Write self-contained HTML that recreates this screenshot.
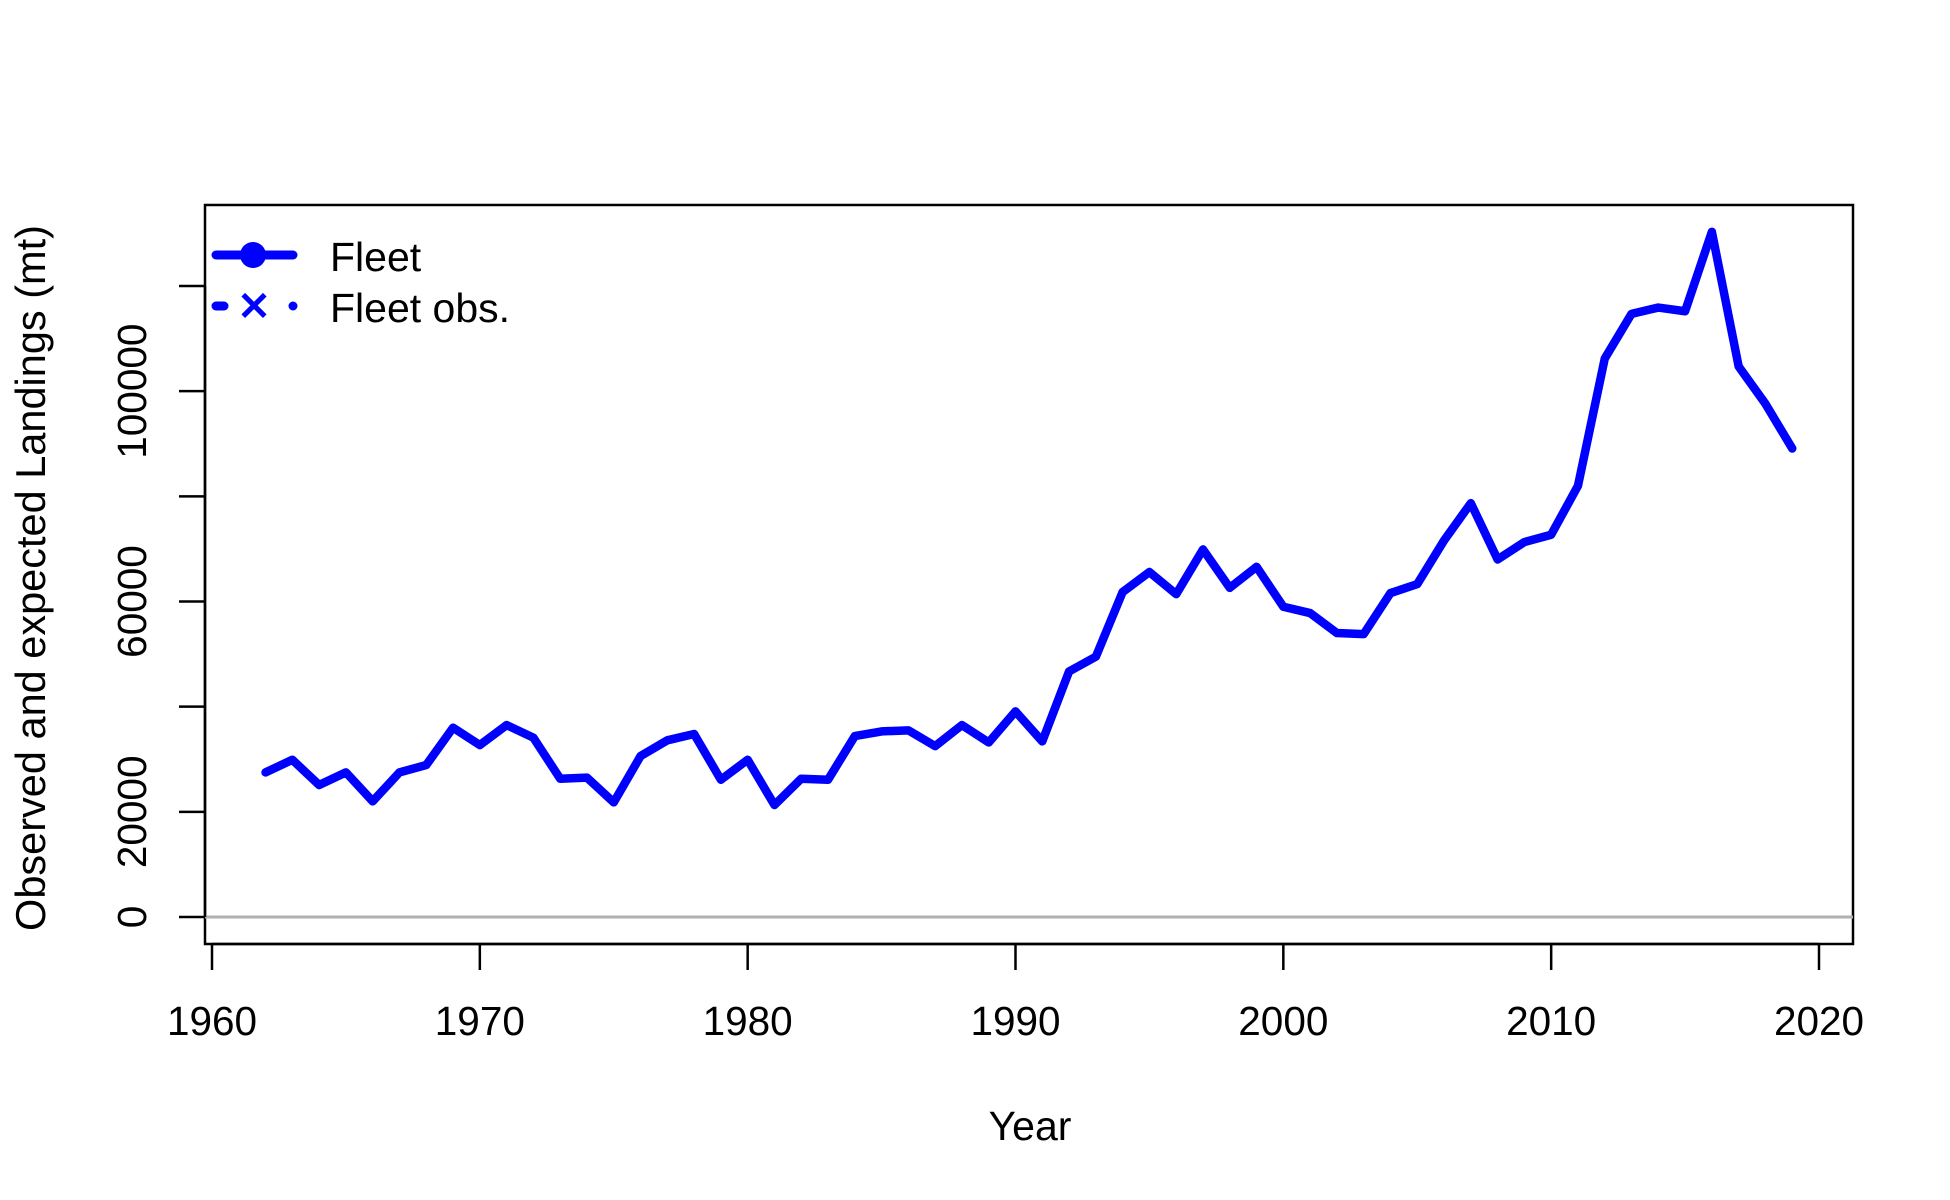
<!DOCTYPE html>
<html><head><meta charset="utf-8"><style>
html,body{margin:0;padding:0;background:#fff;}
svg{display:block;font-family:"Liberation Sans",Arial,sans-serif;}
</style></head><body>
<svg id="chart" width="1950" height="1200" viewBox="0 0 1950 1200">
<rect x="205" y="205" width="1648" height="739" fill="none" stroke="#000" stroke-width="2.5"/>
<g id="axes"></g>
<g id="series"></g>
<g>
 <line x1="216" y1="255" x2="293" y2="255" stroke="#0000ff" stroke-width="9" stroke-linecap="round"/>
 <circle cx="253" cy="255" r="13" fill="#0000ff"/>
 <text x="330" y="271" font-size="41">Fleet</text>
 <line x1="216" y1="306" x2="224" y2="306" stroke="#0000ff" stroke-width="9" stroke-linecap="round"/>
 <circle cx="293" cy="306" r="4.5" fill="#0000ff"/>
 <text x="254" y="320" font-size="40" font-weight="bold" fill="#0000ff" text-anchor="middle">✕</text>
 <text x="330" y="322" font-size="41">Fleet obs.</text>
</g>
<text x="1030" y="1140" font-size="41" text-anchor="middle">Year</text>
<text transform="translate(45,578) rotate(-90)" font-size="41.5" text-anchor="middle">Observed and expected Landings (mt)</text>
</svg>
<script>
const years = [1962,1963,1964,1965,1966,1967,1968,1969,1970,1971,1972,1973,1974,1975,1976,1977,1978,1979,1980,1981,1982,1983,1984,1985,1986,1987,1988,1989,1990,1991,1992,1993,1994,1995,1996,1997,1998,1999,2000,2001,2002,2003,2004,2005,2006,2007,2008,2009,2010,2011,2012,2013,2014,2015,2016,2017,2018,2019];
const landings = [27.5,29.9,25.1,27.5,22.0,27.5,28.9,36.0,32.7,36.5,34.1,26.3,26.5,21.8,30.6,33.6,34.8,26.1,29.9,21.3,26.3,26.1,34.4,35.3,35.5,32.5,36.5,33.2,39.1,33.4,46.7,49.5,61.8,65.6,61.4,69.9,62.6,66.6,59.0,57.8,54.0,53.8,61.6,63.3,71.6,78.7,68.0,71.3,72.7,82.0,106.2,114.7,115.9,115.2,130.3,104.7,97.6,89.1].map(v=>v*1000);
const xTicks = [1960,1970,1980,1990,2000,2010,2020];
const yTicks = [0,20000,40000,60000,80000,100000,120000];
const yLabels = ["0","20000","","60000","","100000",""];
const NS="http://www.w3.org/2000/svg";
const xs = y => 212 + (y-1960)*(1819-212)/60;
const ys = v => 917 - v*(917-286)/120000;
const ax=document.getElementById('axes'), se=document.getElementById('series');
function mk(tag,attrs,parent){const e=document.createElementNS(NS,tag);for(const k in attrs)e.setAttribute(k,attrs[k]);parent.appendChild(e);return e;}
const zl=mk('line',{x1:205,x2:1853,y1:ys(0),y2:ys(0),stroke:'#b0b0b0','stroke-width':3},ax);


const xa=mk('line',{x1:xs(1960),x2:xs(2020),y1:944,y2:944,stroke:'#000','stroke-width':2.5},ax);


xTicks.forEach(t=>{
 const l=mk('line',{x1:xs(t),x2:xs(t),y1:944,y2:970,stroke:'#000','stroke-width':2.5},ax);
 
 
 const tx=mk('text',{x:xs(t),y:1035,'font-size':40.5,'text-anchor':'middle'},ax);
 tx.textContent=t;
 
 
});
const ya=mk('line',{x1:205,x2:205,y1:ys(0),y2:ys(120000),stroke:'#000','stroke-width':2.5},ax);


yTicks.forEach((t,i)=>{
 const l=mk('line',{x1:179,x2:205,y1:ys(t),y2:ys(t),stroke:'#000','stroke-width':2.5},ax);
 
 
 if(yLabels[i]){
  const tx=mk('text',{transform:`translate(146,${ys(t)}) rotate(-90)`,'font-size':40.5,'text-anchor':'middle'},ax);
  tx.textContent=yLabels[i];
  
  
 }
});
const pts=years.map((y,i)=>xs(y)+','+ys(landings[i])).join(' ');
const pl=mk('polyline',{points:pts,fill:'none',stroke:'#0000ff','stroke-width':8.5,'stroke-linejoin':'round','stroke-linecap':'round'},se);


</script>
</body></html>
